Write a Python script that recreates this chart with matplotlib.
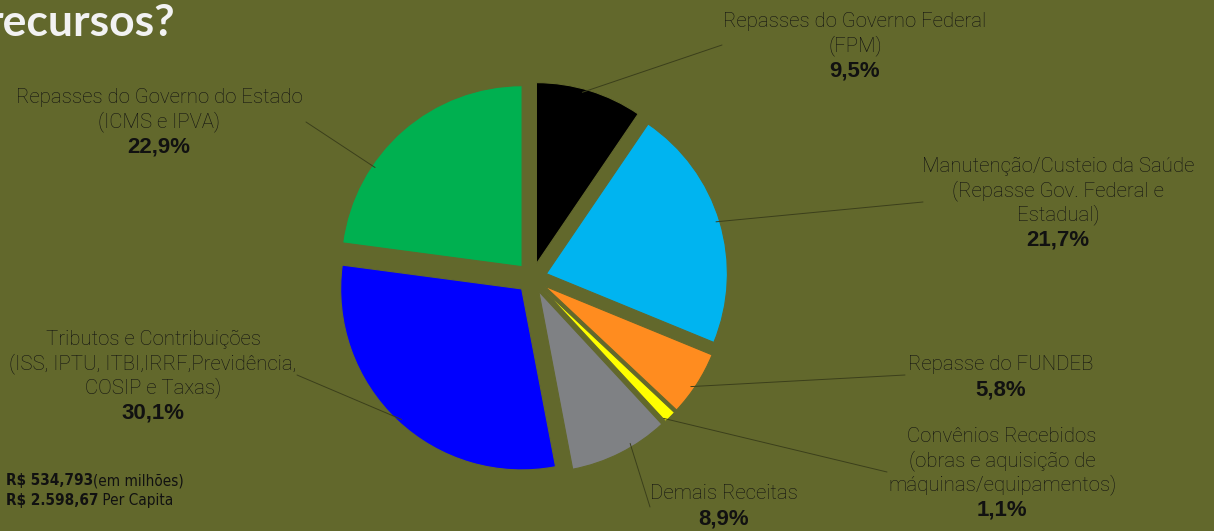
import numpy as np
import matplotlib.pyplot as plt

# fontes de receita e percentuais
fontes = ['Repasses do Governo Federal\n(FPM)',
          'Manutenção/Custeio da Saúde\n(Repasse Gov. Federal e\nEstadual)',
          'Repasse do FUNDEB',
          'Convênios Recebidos\n(obras e aquisição de\nmáquinas/equipamentos)',
          'Demais Receitas',
          'Tributos e Contribuições\n(ISS, IPTU, ITBI,IRRF,Previdência,\nCOSIP e Taxas)',
          'Repasses do Governo do Estado\n(ICMS e IPVA)']
percentuais = [9.5, 21.7, 5.8, 1.1, 8.9, 30.1, 22.9]
cores = ['#000000', '#00b4f0', '#ff8c1f', '#ffff00', '#7f8184', '#0000ff', '#00b050']

total_txt = ['R$ 534,793', '(em milhões)']
percapita_txt = ['R$ 2.598,67', ' Per Capita']

bg = '#62682c'
txtcol = '#111111'
linecol = '#3b3f1b'

# label layout (pixels from top-left): centre x, first baseline
label_pos = [(855, 27), (1058, 172), (1001, 370), (1002, 442), (724, 499), (153, 345), (159, 103)]
line_ends = [(722, 45), (923, 202), (905, 375), (887, 472), (650, 507), (297, 375), (306, 122)]
anchor_ang = [75, 17, -34.5, -47, -59, -132.6, 146]

W, H = 1214, 531
fig = plt.figure(figsize=(W / 100, H / 100), dpi=100, facecolor=bg)

ov = fig.add_axes([0, 0, 1, 1])
ov.set_xlim(0, W)
ov.set_ylim(H, 0)
ov.axis('off')

# pie: centre (532, 278) px, radius 181 px
R = 181
lim = 1.2
cx, cy = 532, 278
side = 2 * lim * R
ax = fig.add_axes([(cx - side / 2) / W, (H - cy - side / 2) / H, side / W, side / H])
wedges, _ = ax.pie(percentuais, colors=cores, startangle=90, counterclock=False,
                   explode=[0.083] * len(percentuais), radius=1,
                   wedgeprops=dict(edgecolor=bg, linewidth=0.8))
ax.set_xlim(-lim, lim)
ax.set_ylim(-lim, lim)
ax.set_aspect('equal')
ax.axis('off')

lab_font = dict(family=['Roboto', 'DejaVu Sans'], fontweight='light', fontsize=14.7, color=txtcol)
pct_font = dict(family=['Liberation Sans', 'DejaVu Sans'], fontweight='bold', fontsize=16, color=txtcol)
step = 24

for i, w in enumerate(wedges):
    lines = fontes[i].split('\n')
    x0, y0 = label_pos[i]
    for k, ln in enumerate(lines):
        ov.text(x0, y0 + k * step, ln, ha='center', va='baseline', **lab_font)
    pct = f'{percentuais[i]:.1f}%'.replace('.', ',')
    ov.text(x0, y0 + len(lines) * step + 1.5, pct, ha='center', va='baseline', **pct_font)

    a = np.deg2rad(anchor_ang[i])
    px = w.center[0] + 0.98 * np.cos(a)
    py = w.center[1] + 0.98 * np.sin(a)
    ax.annotate('', xy=(px, py), xytext=line_ends[i], textcoords=ov.transData,
                annotation_clip=False,
                arrowprops=dict(arrowstyle='-', color=linecol, lw=0.7, shrinkA=0, shrinkB=0))

# titulo (cortado na borda)
ov.text(175, 36, 'recursos?', ha='right', va='baseline', fontsize=32,
        fontweight='bold', family=['Lato', 'DejaVu Sans'], color='#f2f2f2')

# totais
narrow = dict(family='DejaVu Sans', fontstretch='condensed', fontsize=11, color=txtcol)
t1 = ov.text(6, 485, total_txt[0], ha='left', va='baseline', fontweight='bold', **narrow)
ov.annotate(total_txt[1], xy=(1, 0), xycoords=t1, va='bottom', ha='left', **narrow)
t2 = ov.text(6, 505, percapita_txt[0], ha='left', va='baseline', fontweight='bold', **narrow)
ov.annotate(percapita_txt[1], xy=(1, 0), xycoords=t2, va='bottom', ha='left', **narrow)

fig.savefig('out.png', dpi=100, facecolor=bg)
